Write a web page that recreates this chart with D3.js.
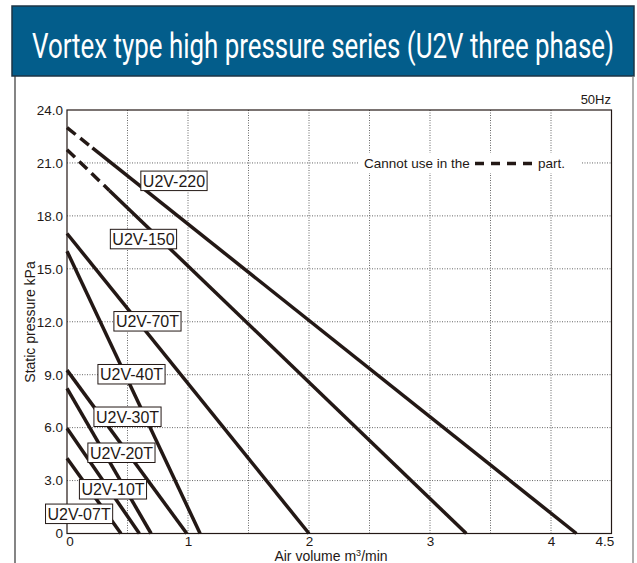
<!DOCTYPE html>
<html>
<head>
<meta charset="utf-8">
<script src="https://cdn.jsdelivr.net/npm/d3@7"></script>
<style>
  body { margin: 0; background: #fff; }
  svg { display: block; }
  text { font-family: "Liberation Sans", Arial, sans-serif; fill: #231815; }
</style>
</head>
<body>
<svg id="chart" width="637" height="563"></svg>
<script>
// chart values
var models = ["U2V-220", "U2V-150", "U2V-70T", "U2V-40T", "U2V-30T", "U2V-20T", "U2V-10T", "U2V-07T"];
var maxPressure = [23.0, 21.75, 17.0, 16.0, 9.26, 8.22, 5.96, 4.26];   // kPa at 0 flow
var maxAirVolume = [4.21, 3.30, 2.0, 1.10, 0.99, 0.695, 0.598, 0.446]; // m3/min at 0 kPa
var unusableTo = [0.21, 0.35, 0, 0, 0, 0, 0, 0];                        // dashed part
var labelFlow = [0.884, 0.632, 0.665, 0.533, 0.50, 0.45, 0.38, 0.10];
var labelPressure = [20.0, 16.7, 12.04, 9.04, 6.63, 4.59, 2.52, 1.13];
var yTicks = [0, 3, 6, 9, 12, 15, 18, 21, 24];
var xTicks = [0, 1, 2, 3, 4, 4.5];
var xGrid = [0.5, 1, 1.5, 2, 2.5, 3, 3.5, 4];
var yGrid = [3, 6, 9, 12, 15, 18, 21];

var ink = "#231815";
var svg = d3.select('#chart');

// title bar + panel frame
svg.append('rect').attr('x', 12).attr('y', 6).attr('width', 622).attr('height', 70)
    .attr('fill', '#035d8b').attr('stroke', '#1c3446').attr('stroke-width', 1.5);
svg.append('text').attr('x', 323).attr('y', 58).attr('text-anchor', 'middle')
    .attr('textLength', 582).attr('lengthAdjust', 'spacingAndGlyphs')
    .style('font-family', '"Liberation Sans Narrow", Roboto, sans-serif')
    .style('font-size', '35px').style('fill', '#fff')
    .text('Vortex type high pressure series (U2V three phase)');
svg.append('line').attr('x1', 15).attr('x2', 15).attr('y1', 76).attr('y2', 563)
    .attr('stroke', '#333').attr('stroke-width', 1.2);
svg.append('line').attr('x1', 633).attr('x2', 633).attr('y1', 76).attr('y2', 563)
    .attr('stroke', '#777').attr('stroke-width', 1.2);

var pLeft = 67, pRight = 611.5, pTop = 110, pBottom = 533.5;
var x = d3.scaleLinear().domain([0, 4.5]).range([pLeft, pRight]);
var y = d3.scaleLinear().domain([0, 24]).range([pBottom, pTop]);

// grid
svg.append('g').selectAll('line').data(xGrid).enter().append('line')
    .attr('x1', d => x(d)).attr('x2', d => x(d)).attr('y1', pTop).attr('y2', pBottom)
    .attr('stroke', '#666').attr('stroke-width', 1).attr('stroke-dasharray', '1,1.5');
svg.append('g').selectAll('line').data(yGrid).enter().append('line')
    .attr('x1', pLeft).attr('x2', pRight).attr('y1', d => y(d)).attr('y2', d => y(d))
    .attr('stroke', '#666').attr('stroke-width', 1).attr('stroke-dasharray', '1,1.5');

// note box on the 21.0 grid line
svg.append('rect').attr('x', 359).attr('y', 153).attr('width', 223).attr('height', 20).attr('fill', '#fff');
svg.append('text').attr('x', 364).attr('y', 168).style('font-size', '13.5px').text('Cannot use in the');
svg.append('line').attr('x1', 475).attr('x2', 533).attr('y1', 163.5).attr('y2', 163.5)
    .attr('stroke', ink).attr('stroke-width', 3.5).attr('stroke-dasharray', '9,7');
svg.append('text').attr('x', 538).attr('y', 168).style('font-size', '13.5px').text('part.');

// plot frame
svg.append('rect').attr('x', pLeft).attr('y', pTop).attr('width', pRight - pLeft).attr('height', pBottom - pTop)
    .attr('fill', 'none').attr('stroke', ink).attr('stroke-width', 1.2);

// axes (labels only)
var yAxis = svg.append('g').attr('transform', 'translate(' + pLeft + ',0)')
    .call(d3.axisLeft(y).tickValues(yTicks).tickSize(0).tickPadding(4)
        .tickFormat(d => d === 0 ? '0' : d.toFixed(1)));
yAxis.select('.domain').remove();
yAxis.selectAll('text').style('font-size', '13.5px').style('font-family', '"Liberation Sans", Arial, sans-serif')
    .attr('fill', ink);

var xAxis = svg.append('g').attr('transform', 'translate(0,' + pBottom + ')')
    .call(d3.axisBottom(x).tickValues(xTicks).tickSize(0).tickPadding(3).tickFormat(d => String(d)));
xAxis.select('.domain').remove();
xAxis.selectAll('text').style('font-size', '13.5px').style('font-family', '"Liberation Sans", Arial, sans-serif')
    .attr('fill', ink);
xAxis.selectAll('.tick').filter(d => d === 0).select('text').attr('x', 2.5);
xAxis.selectAll('.tick').filter(d => d === 4.5).select('text').attr('x', -7);

svg.append('text').attr('x', 331).attr('y', 561).attr('text-anchor', 'middle').style('font-size', '14px')
    .html('Air volume m<tspan dy="-5" style="font-size:9px">3</tspan><tspan dy="5">/min</tspan>');
svg.append('text').attr('transform', 'translate(35,322) rotate(-90)').attr('text-anchor', 'middle')
    .style('font-size', '14px').text('Static pressure kPa');
svg.append('text').attr('x', 611).attr('y', 104).attr('text-anchor', 'end').style('font-size', '13px').text('50Hz');

// curves
var line = d3.line().x(d => x(d[0])).y(d => y(d[1]));
var curves = svg.append('g');
models.forEach(function(m, i) {
    var p0 = maxPressure[i], v0 = maxAirVolume[i], c = unusableTo[i];
    var pc = p0 * (1 - c / v0);
    if (c > 0) {
        curves.append('path').attr('d', line([[0, p0], [c, pc]]))
            .attr('fill', 'none').attr('stroke', ink).attr('stroke-width', 3.5).attr('stroke-dasharray', '11,6');
    }
    curves.append('path').attr('d', line([[c, pc], [v0, 0]]))
        .attr('fill', 'none').attr('stroke', ink).attr('stroke-width', 3.5);
});

// model labels
var labels = svg.append('g');
models.forEach(function(m, i) {
    var g = labels.append('g').attr('transform', 'translate(' + x(labelFlow[i]) + ',' + y(labelPressure[i]) + ')');
    var t = g.append('text').attr('text-anchor', 'middle').attr('y', 6).style('font-size', '16px').text(m);
    var w = t.node().getComputedTextLength();
    g.insert('rect', 'text').attr('x', -w / 2 - 2).attr('y', -9.5).attr('width', w + 4).attr('height', 19.5)
        .attr('fill', '#fff').attr('stroke', ink).attr('stroke-width', 1);
});
</script>
</body>
</html>
